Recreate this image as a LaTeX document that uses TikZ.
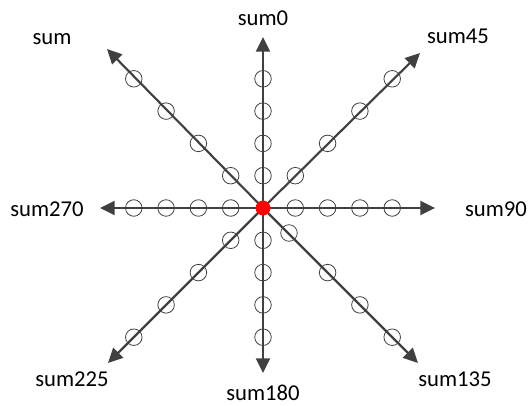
\documentclass[tikz,border=0pt]{standalone}
\usepackage{fontspec}
\setmainfont{Carlito}
\usetikzlibrary{arrows.meta}
\definecolor{axisgray}{HTML}{404040}
\definecolor{dotred}{HTML}{FF0000}

\begin{document}
\begin{tikzpicture}[
  x=0.75pt, y=-0.75pt,
  axis/.style={-{Triangle[length=11pt,width=10.5pt]},line width=1.6pt,draw=axisgray},
  ring/.style={circle,draw=axisgray,line width=0.6pt,minimum size=12.4pt,inner sep=0pt},
  hub/.style={circle,fill=dotred,minimum size=11.2pt,inner sep=0pt},
  lbl/.style={font=\fontsize{17}{20}\selectfont,anchor=base,inner sep=0pt}
]
\useasboundingbox (0,0) rectangle (529,406);

%% centre and arrow tips
\coordinate (o) at (263,208);
\coordinate (t0)   at (263,37);
\coordinate (t45)  at (420,53);
\coordinate (t90)  at (435,208);
\coordinate (t135) at (418,363);
\coordinate (t180) at (263,373);
\coordinate (t225) at (108,363);
\coordinate (t270) at (100,208);
\coordinate (tsum) at (107,49);

%% eight axes
\foreach \t in {t0,t45,t90,t135,t180,t225,t270,tsum}
  \draw[axis] (o) -- (\t);

%% rings along the axes
\foreach \dx/\dy/\n in {0/-1/a, 1/-1/b, 1/0/c, 0/1/e, -1/1/f, -1/0/g, -1/-1/h}
  \foreach \k in {1,...,4}
    \node[ring] (\n\k) at (263+32.3*\k*\dx, 208+32.3*\k*\dy) {};
\node[ring] (d1) at (289,233) {};
\foreach \k in {2,...,4}
  \node[ring] (d\k) at (263+32.3*\k, 208+32.3*\k) {};

%% red centre dot
\node[hub] (hub) at (o) {};

%% labels
\node[lbl] (l0)   at (263,26)  {sum0};
\node[lbl] (l45)  at (458,44)  {sum45};
\node[lbl] (l90)  at (496,217) {sum90};
\node[lbl] (l135) at (455,387) {sum135};
\node[lbl] (l180) at (263,400) {sum180};
\node[lbl] (l225) at (72,387)  {sum225};
\node[lbl] (l270) at (47,217)  {sum270};
\node[lbl] (lsum) at (52,45)   {sum};

\end{tikzpicture}
\end{document}
